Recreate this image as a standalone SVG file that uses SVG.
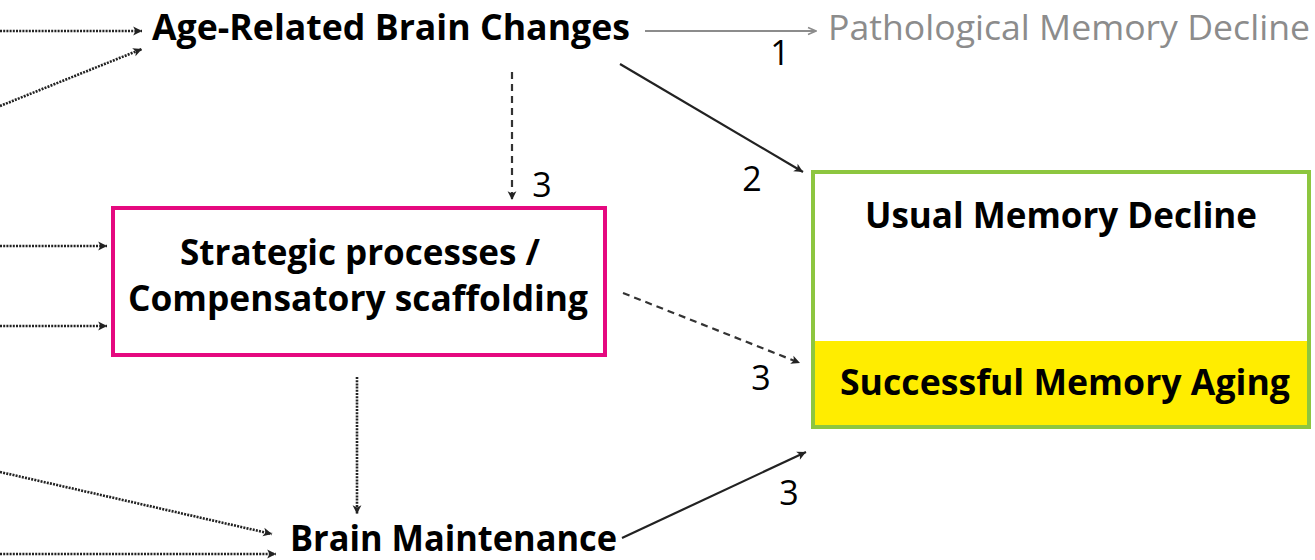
<svg xmlns="http://www.w3.org/2000/svg" width="1315" height="560" viewBox="0 0 1315 560">
<style>
.b{font-family:"Open Sans","Noto Sans",sans-serif;font-weight:bold;font-size:35px;fill:#000}
.r{font-family:"Open Sans","Noto Sans",sans-serif;font-size:34px;fill:#000}
.g{font-family:"Open Sans","Noto Sans",sans-serif;font-size:35px;fill:#8c8c8c}
.dot{stroke:#222;stroke-width:2.6;stroke-dasharray:2 1.2;fill:none}
.dash{stroke:#333;stroke-width:2.2;stroke-dasharray:7 5;fill:none}
.sol{stroke:#222;stroke-width:2.2;fill:none}
.gr{stroke:#8c8c8c;stroke-width:1.8;fill:none}
</style>
<defs>
<marker id="ah" viewBox="0 0 10 10" refX="9" refY="5" markerWidth="11" markerHeight="11" markerUnits="userSpaceOnUse" orient="auto">
<path d="M1,1 L9,5 L1,9 L3,5 Z" fill="#222"/>
</marker>
<marker id="ahg" viewBox="0 0 10 10" refX="9" refY="5" markerWidth="10" markerHeight="10" markerUnits="userSpaceOnUse" orient="auto">
<path d="M1,1.5 L9,5 L1,8.5" fill="none" stroke="#8c8c8c" stroke-width="1.5"/>
</marker>
</defs>
<rect width="1315" height="560" fill="#fff"/>
<g id="connectors">
<line class="dot" x1="0" y1="31" x2="142" y2="31" marker-end="url(#ah)"/>
<line class="dot" x1="0" y1="106" x2="142" y2="49" marker-end="url(#ah)"/>
<line class="dot" x1="0" y1="246" x2="107" y2="246" marker-end="url(#ah)"/>
<line class="dot" x1="0" y1="326" x2="107" y2="326" marker-end="url(#ah)"/>
<line class="dot" x1="0" y1="472" x2="272" y2="534" marker-end="url(#ah)"/>
<line class="dot" x1="0" y1="554" x2="276" y2="554" marker-end="url(#ah)"/>
<line class="dot" x1="357" y1="377" x2="357" y2="514" marker-end="url(#ah)"/>
<line class="gr" x1="645" y1="31" x2="816" y2="31" marker-end="url(#ahg)"/>
<line class="dash" x1="512" y1="72" x2="512" y2="200" marker-end="url(#ah)"/>
<line class="sol" x1="620" y1="64" x2="803" y2="172" marker-end="url(#ah)"/>
<line class="dash" x1="623" y1="293" x2="800" y2="363" marker-end="url(#ah)"/>
<line class="sol" x1="622" y1="538" x2="806" y2="452" marker-end="url(#ah)"/>
<text class="r" x="780" y="65" text-anchor="middle">1</text>
<text class="r" x="752" y="191" text-anchor="middle">2</text>
<text class="r" x="542" y="197" text-anchor="middle">3</text>
<text class="r" x="761" y="390" text-anchor="middle">3</text>
<text class="r" x="789" y="505" text-anchor="middle">3</text>
</g>
<g id="age-related">
<text class="b" x="152" y="40" textLength="478" lengthAdjust="spacingAndGlyphs">Age-Related Brain Changes</text>
</g>
<g id="pathological">
<text class="g" x="828" y="40" textLength="482" lengthAdjust="spacingAndGlyphs">Pathological Memory Decline</text>
</g>
<g id="strategic">
<rect x="113" y="208" width="492" height="147" fill="#fff" stroke="#e5097f" stroke-width="4"/>
<text class="b" x="180" y="265" textLength="360" lengthAdjust="spacingAndGlyphs">Strategic processes /</text>
<text class="b" x="128" y="311" textLength="460" lengthAdjust="spacingAndGlyphs">Compensatory scaffolding</text>
</g>
<g id="outcome">
<rect x="813" y="172" width="496" height="255" fill="#fff" stroke="none"/>
<rect x="813" y="341" width="496" height="86" fill="#ffed00"/>
<rect x="813" y="172" width="496" height="255" fill="none" stroke="#8dc63f" stroke-width="4"/>
<text class="b" x="865" y="228" textLength="392" lengthAdjust="spacingAndGlyphs">Usual Memory Decline</text>
<text class="b" x="840" y="395" textLength="450" lengthAdjust="spacingAndGlyphs">Successful Memory Aging</text>
</g>
<g id="maintenance">
<text class="b" x="290" y="551" textLength="327" lengthAdjust="spacingAndGlyphs">Brain Maintenance</text>
</g>
</svg>
